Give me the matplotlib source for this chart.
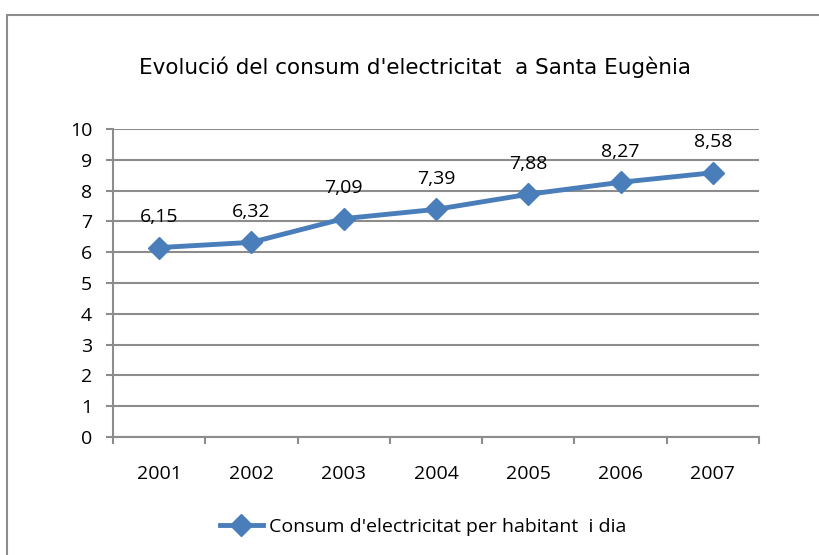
import numpy as np
import matplotlib
matplotlib.use('Agg')
import matplotlib.pyplot as plt
from matplotlib.patches import Rectangle

years = ['2001', '2002', '2003', '2004', '2005', '2006', '2007']
consum = [6.15, 6.32, 7.09, 7.39, 7.88, 8.27, 8.58]
labels = ['6,15', '6,32', '7,09', '7,39', '7,88', '8,27', '8,58']

blue = '#4A7EBB'
grid_col = '#8C8C8C'

fig = plt.figure(figsize=(8.2, 5.55), dpi=100)

# outer chart border
fig.patches.append(Rectangle((7 / 820, -0.05), 1.1, 1 - 15 / 555 + 0.05,
                             transform=fig.transFigure, fill=False,
                             edgecolor='#8C8C8C', linewidth=1.5))

ax = fig.add_axes([113 / 820, 1 - 437 / 555, (759 - 113) / 820, (437 - 129) / 555])

x = np.arange(len(years))
ax.plot(x, consum, color=blue, linewidth=3.5, marker='D', markersize=11,
        label="Consum d'electricitat per habitant  i dia", zorder=3)
for xi, yi, lab in zip(x, consum, labels):
    ax.annotate(lab, (xi, yi), xytext=(0, 22), textcoords='offset points',
                ha='center', va='center', fontsize=14, family='Open Sans')

ax.set_xlim(-0.5, len(years) - 0.5)
ax.set_ylim(0, 10)
ax.set_yticks(range(0, 11))
ax.set_yticklabels([str(v) for v in range(0, 11)], family='Open Sans', fontsize=14)
ax.set_xticks(x)
ax.set_xticklabels(years, family='Open Sans', fontsize=14)
ax.set_xticks(np.arange(-0.5, len(years)), minor=True)
ax.tick_params(axis='x', which='major', length=0, pad=20)
ax.tick_params(axis='x', which='minor', length=5, color=grid_col, width=1.5)
ax.tick_params(axis='y', length=5, color=grid_col, width=1.5, pad=10)

ax.grid(axis='y', color=grid_col, linewidth=1.5)
ax.set_axisbelow(True)
for s in ['top', 'right']:
    ax.spines[s].set_visible(False)
for s in ['left', 'bottom']:
    ax.spines[s].set_color(grid_col)
    ax.spines[s].set_linewidth(1.5)

fig.text(415 / 820, 1 - 67 / 555, "Evolució del consum d'electricitat  a Santa Eugènia",
         ha='center', va='center', fontsize=15.5, family='DejaVu Sans')

fig.legend(loc='center', bbox_to_anchor=(423 / 820, 1 - 527 / 555), frameon=False,
           prop={'family': 'Open Sans', 'size': 14}, handlelength=2.2,
           handletextpad=0.3)

fig.savefig('out.png', dpi=100)
